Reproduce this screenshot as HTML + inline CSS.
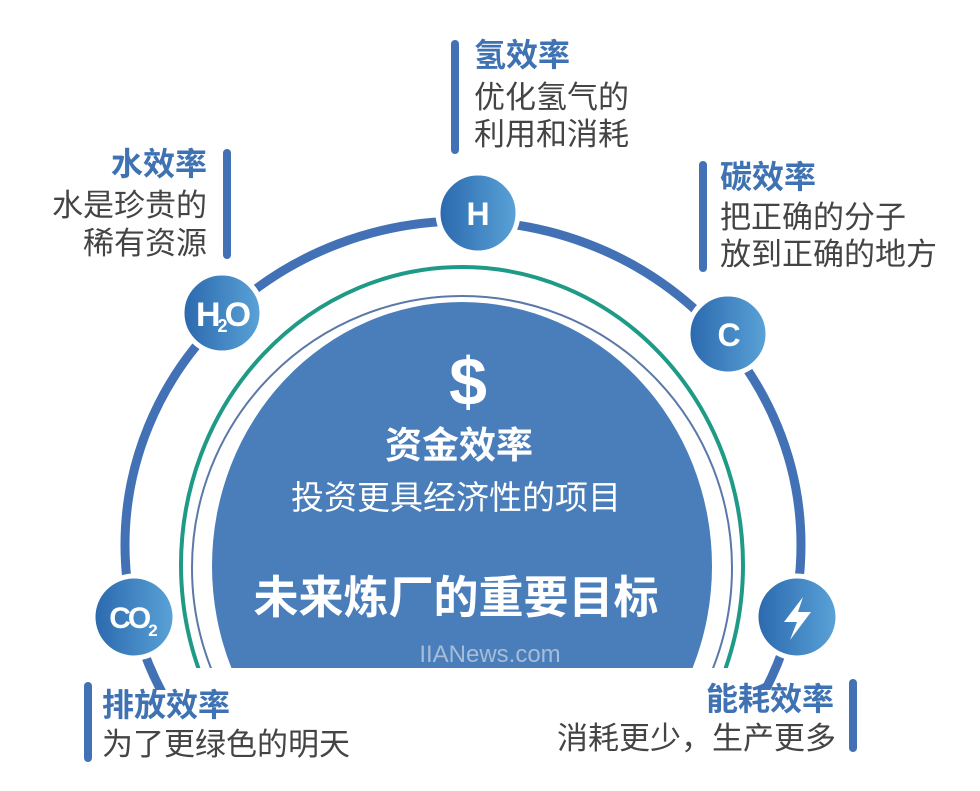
<!DOCTYPE html>
<html><head><meta charset="utf-8"><style>
html,body{margin:0;padding:0;background:#fff;overflow:hidden;width:980px;height:791px;}
svg{display:block;}
text{font-family:"Liberation Sans","Noto Sans CJK SC",sans-serif;}
.t{font-size:31px;fill:#444;}
.h{font-size:32px;font-weight:bold;fill:#3f72b3;}
</style></head><body>
<svg width="980" height="791" viewBox="0 0 980 791" xmlns="http://www.w3.org/2000/svg">
<defs>
<linearGradient id="g" x1="0" y1="0" x2="1" y2="0">
<stop offset="0" stop-color="#2a68ad"/><stop offset="1" stop-color="#5ba3d8"/>
</linearGradient>
<clipPath id="c"><rect x="0" y="0" width="980" height="668"/></clipPath>
<clipPath id="c2"><rect x="0" y="0" width="980" height="690"/></clipPath>
</defs>
<g clip-path="url(#c2)">
<ellipse cx="463" cy="545" rx="338" ry="324" fill="none" stroke="#4272b5" stroke-width="9"/>
</g>
<g clip-path="url(#c)">
<ellipse cx="462" cy="565" rx="281" ry="298" fill="none" stroke="#1f9a86" stroke-width="4"/>
<ellipse cx="462" cy="568" rx="270" ry="272" fill="none" stroke="#5a78a8" stroke-width="2"/>
<ellipse cx="462" cy="566" rx="250" ry="264" fill="#4a7ebb"/>
</g>
<g stroke="#fff" stroke-width="5" fill="url(#g)">
<circle cx="478" cy="213" r="40"/>
<circle cx="222" cy="313" r="40"/>
<circle cx="728" cy="334" r="40"/>
<circle cx="134" cy="617" r="41"/>
<circle cx="797" cy="617" r="41"/>
</g>
<g fill="#fff" font-weight="bold" text-anchor="middle">
<text x="478" y="225" font-size="32">H</text>
<text x="222" y="326" font-size="34" letter-spacing="-3">H<tspan font-size="18" dy="6">2</tspan><tspan dy="-6">O</tspan></text>
<text x="729" y="346" font-size="32">C</text>
<text x="132" y="628" font-size="30" letter-spacing="-3">CO<tspan font-size="17" dy="8">2</tspan></text>
</g>
<polygon points="803,597 784,622 797,622 790,640 811,612 798,612" fill="#fff"/>
<g fill="#fff" text-anchor="middle" font-weight="bold">
<text x="468" y="405" font-size="68">$</text>
<text x="459" y="458" font-size="37">资金效率</text>
<text x="456" y="613" font-size="45">未来炼厂的重要目标</text>
</g>
<text x="456" y="509" font-size="33" fill="#fff" text-anchor="middle">投资更具经济性的项目</text>
<text x="490" y="662" font-size="24" fill="#a7bcd6" text-anchor="middle">IIANews.com</text>
<g stroke="#4272b5" stroke-width="8" stroke-linecap="round">
<line x1="455" y1="44" x2="455" y2="150"/>
<line x1="227" y1="153" x2="227" y2="255"/>
<line x1="703" y1="165" x2="703" y2="268"/>
<line x1="88" y1="686" x2="88" y2="758"/>
<line x1="853" y1="683" x2="853" y2="748"/>
</g>
<text class="h" x="474" y="66">氢效率</text>
<text class="t" x="474" y="108">优化氢气的</text>
<text class="t" x="474" y="145">利用和消耗</text>
<g text-anchor="end">
<text class="h" x="207" y="175">水效率</text>
<text class="t" x="207" y="216">水是珍贵的</text>
<text class="t" x="207" y="254">稀有资源</text>
<text class="h" x="834" y="710">能耗效率</text>
<text class="t" x="836" y="749">消耗更少，生产更多</text>
</g>
<text class="h" x="720" y="188">碳效率</text>
<text class="t" x="720" y="228">把正确的分子</text>
<text class="t" x="720" y="265">放到正确的地方</text>
<text class="h" x="102" y="716">排放效率</text>
<text class="t" x="102" y="755">为了更绿色的明天</text>
</svg>
</body></html>
